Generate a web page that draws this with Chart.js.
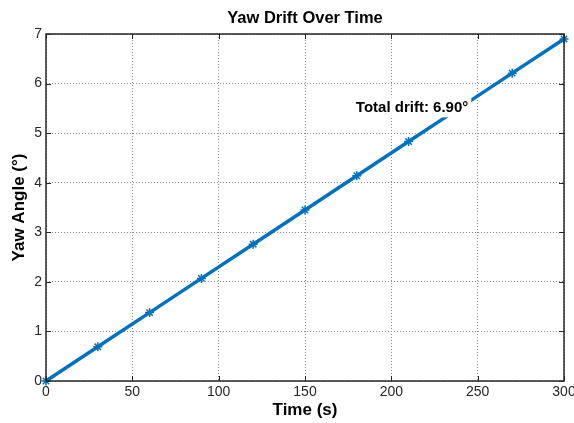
<!DOCTYPE html>
<html>
<head>
<meta charset="utf-8">
<script src="https://cdn.jsdelivr.net/npm/chart.js@4/dist/chart.umd.min.js"></script>
<style>
  html, body { margin: 0; padding: 0; background: #fff; }
  #wrap { width: 574px; height: 423px; }
</style>
</head>
<body>
<div id="wrap"><canvas id="chart" width="574" height="423"></canvas></div>
<script>
const times = [0, 30, 60, 90, 120, 150, 180, 210, 240, 270, 300];
const yawAngles = [0, 0.69, 1.38, 2.07, 2.76, 3.45, 4.14, 4.83, 5.52, 6.21, 6.90];
const xTicks = [0, 50, 100, 150, 200, 250, 300];
const yTicks = [0, 1, 2, 3, 4, 5, 6, 7];
const titleText = 'Yaw Drift Over Time';
const noteText = 'Total drift: 6.90°';
const notePos = [212, 5.52];

const FONT = '"Liberation Sans", Arial, sans-serif';

// title over the axes, box, inward ticks and the drift note
const matlabBox = {
    id: 'matlabBox',
    afterDatasetsDraw(chart) {
        const { ctx, chartArea: a, scales: { x, y } } = chart;
        ctx.save();
        ctx.strokeStyle = '#262626';
        ctx.lineWidth = 1;
        ctx.beginPath();
        xTicks.forEach(v => {
            const px = Math.round(x.getPixelForValue(v)) + 0.5;
            ctx.moveTo(px, a.bottom); ctx.lineTo(px, a.bottom - 5);
            ctx.moveTo(px, a.top); ctx.lineTo(px, a.top + 5);
        });
        yTicks.forEach(v => {
            const py = Math.round(y.getPixelForValue(v)) + 0.5;
            ctx.moveTo(a.left, py); ctx.lineTo(a.left + 5, py);
            ctx.moveTo(a.right, py); ctx.lineTo(a.right - 5, py);
        });
        ctx.stroke();
        ctx.lineWidth = 1.5;
        ctx.strokeRect(a.left, a.top, a.right - a.left, a.bottom - a.top);

        ctx.textAlign = 'center';
        ctx.textBaseline = 'middle';

        // title centred on the plot area
        ctx.font = 'bold 16.5px ' + FONT;
        ctx.fillStyle = '#000';
        ctx.fillText(titleText, (a.left + a.right) / 2, 18);

        // note with white background
        ctx.font = 'bold 15px ' + FONT;
        const nx = x.getPixelForValue(notePos[0]);
        const ny = y.getPixelForValue(notePos[1]);
        const w = ctx.measureText(noteText).width;
        ctx.fillStyle = '#fff';
        ctx.fillRect(nx - w / 2 - 3, ny - 10, w + 6, 20);
        ctx.fillStyle = '#000';
        ctx.fillText(noteText, nx, ny);
        ctx.restore();
    }
};

new Chart(document.getElementById('chart'), {
    type: 'line',
    data: {
        labels: times,
        datasets: [{
            data: times.map((t, i) => ({ x: t, y: yawAngles[i] })),
            borderColor: '#0072BD',
            backgroundColor: '#0072BD',
            borderWidth: 3.5,
            pointStyle: 'star',
            pointRadius: 4.5,
            pointBorderWidth: 1.5,
            pointBorderColor: '#0072BD',
            tension: 0,
            clip: false
        }]
    },
    options: {
        responsive: false,
        animation: false,
        layout: { padding: { left: 9, right: 10, top: 34, bottom: 0 } },
        plugins: {
            legend: { display: false },
            tooltip: { enabled: false },
            title: { display: false }
        },
        scales: {
            x: {
                type: 'linear',
                min: 0, max: 300,
                afterBuildTicks: s => { s.ticks = xTicks.map(v => ({ value: v })); },
                afterFit: s => { s.height = 42; s.paddingRight = 0; s.paddingLeft = 0; },
                ticks: { color: '#262626', font: { family: FONT, size: 14 }, padding: 3, maxRotation: 0 },
                grid: { color: '#8a8a8a', lineWidth: 1, drawTicks: false },
                border: { display: false, dash: [1, 2] },
                title: {
                    display: true, text: 'Time (s)', color: '#000',
                    font: { family: FONT, size: 17, weight: 'bold' },
                    padding: { top: 0, bottom: 2 }
                }
            },
            y: {
                min: 0, max: 7,
                afterBuildTicks: s => { s.ticks = yTicks.map(v => ({ value: v })); },
                afterFit: s => { s.width = 37; s.paddingTop = 0; s.paddingBottom = 0; },
                ticks: { color: '#262626', font: { family: FONT, size: 14 }, padding: 4 },
                grid: { color: '#8a8a8a', lineWidth: 1, drawTicks: false },
                border: { display: false, dash: [1, 2] },
                title: {
                    display: true, text: 'Yaw Angle (°)', color: '#000',
                    font: { family: FONT, size: 17, weight: 'bold' },
                    padding: { top: 0, bottom: 0 }
                }
            }
        }
    },
    plugins: [matlabBox]
});
</script>
</body>
</html>
